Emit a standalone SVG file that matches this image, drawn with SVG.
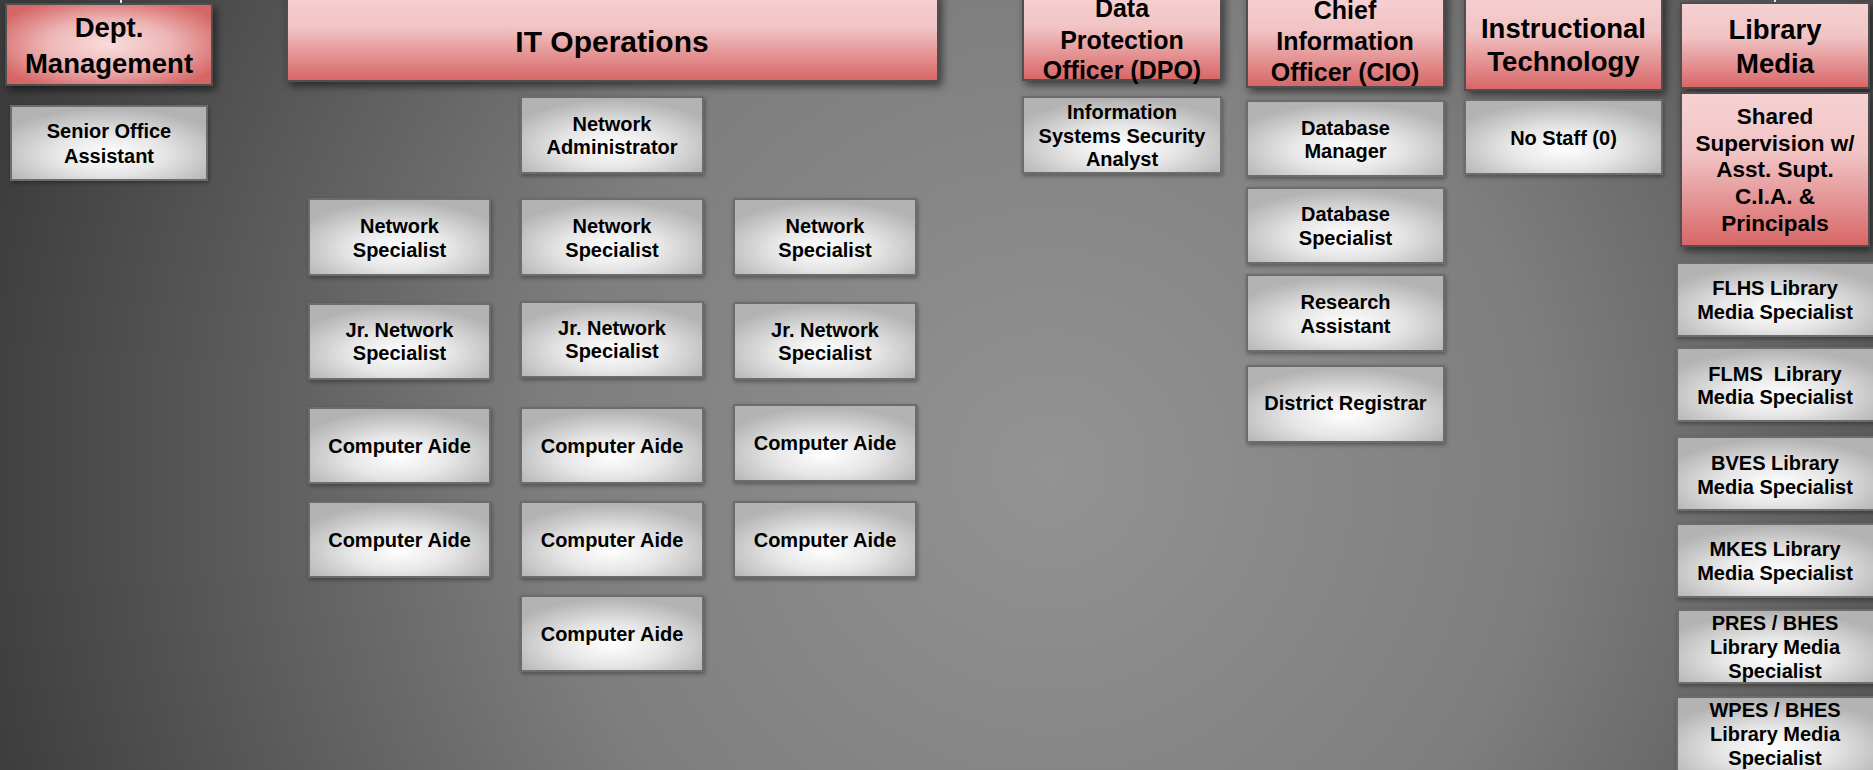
<svg xmlns="http://www.w3.org/2000/svg" width="1873" height="770" viewBox="0 0 1873 770">
<defs>
<radialGradient id="bg" gradientUnits="userSpaceOnUse" cx="1050" cy="470" r="1100">
<stop offset="0" stop-color="#939393"/>
<stop offset="0.45" stop-color="#7e7e7e"/>
<stop offset="1" stop-color="#3c3c3c"/>
</radialGradient>
<linearGradient id="redLin" x1="0" y1="0" x2="0" y2="1">
<stop offset="0" stop-color="#f6d2d3"/>
<stop offset="0.4" stop-color="#f1c3c4"/>
<stop offset="1" stop-color="#d86565"/>
</linearGradient>
<radialGradient id="redRad" cx="0.5" cy="0.5" r="0.6">
<stop offset="0" stop-color="#f9dcdc"/>
<stop offset="0.5" stop-color="#eeb6b6"/>
<stop offset="1" stop-color="#d66666"/>
</radialGradient>
<radialGradient id="greyRad" cx="0.5" cy="0.65" r="0.62">
<stop offset="0" stop-color="#ffffff"/>
<stop offset="0.45" stop-color="#e6e6e6"/>
<stop offset="1" stop-color="#b3b3b3"/>
</radialGradient>
<filter id="sh" x="-10%" y="-20%" width="125%" height="150%">
<feDropShadow dx="3" dy="4" stdDeviation="4" flood-color="#000" flood-opacity="0.55"/>
</filter>
<filter id="shs" x="-10%" y="-20%" width="125%" height="150%">
<feDropShadow dx="1" dy="2" stdDeviation="2" flood-color="#000" flood-opacity="0.35"/>
</filter>
</defs>
<style>
.red{fill:url(#redLin);stroke:#505050;stroke-width:2;filter:url(#sh)}
.redr{fill:url(#redRad);stroke:#505050;stroke-width:2;filter:url(#sh)}
.grey{fill:url(#greyRad);stroke:#6c6c6c;stroke-width:2;filter:url(#shs)}
.t{font-family:"Liberation Sans",Arial,sans-serif;font-weight:bold;text-anchor:middle;fill:#000;font-size:20px}
.h{font-size:27.5px}
.h25{font-size:25px}
.h30{font-size:30px}
.h22{font-size:22.5px}
.conn{stroke:#f2f2f2;stroke-width:2;fill:none}
</style>
<rect x="0" y="0" width="1873" height="770" fill="url(#bg)"/>

<g id="connectors">
<line class="conn" x1="121" y1="-2" x2="121" y2="4"/>
<line class="conn" x1="1775" y1="-2" x2="1775" y2="3"/>
</g>

<g id="dept-management">
<rect class="redr" x="6" y="4" width="206" height="81"/>
<text class="t h" x="109" y="37">Dept.</text>
<text class="t h" x="109" y="72.5">Management</text>
</g>
<g id="senior-office-assistant">
<rect class="grey" x="11" y="106" width="196" height="74"/>
<text class="t" x="109" y="138">Senior Office</text>
<text class="t" x="109" y="162.5">Assistant</text>
</g>

<g id="it-operations">
<rect class="red" x="287" y="-8" width="651" height="89"/>
<text class="t h30" x="612" y="52">IT Operations</text>
</g>
<g id="network-administrator">
<rect class="grey" x="521" y="97" width="182" height="76"/>
<text class="t" x="612" y="131">Network</text>
<text class="t" x="612" y="154">Administrator</text>
</g>

<g id="network-specialist-1">
<rect class="grey" x="309" y="199" width="181" height="76"/>
<text class="t" x="399.5" y="233">Network</text>
<text class="t" x="399.5" y="257">Specialist</text>
</g>
<g id="network-specialist-2">
<rect class="grey" x="521" y="199" width="182" height="76"/>
<text class="t" x="612" y="233">Network</text>
<text class="t" x="612" y="257">Specialist</text>
</g>
<g id="network-specialist-3">
<rect class="grey" x="734" y="199" width="182" height="76"/>
<text class="t" x="825" y="233">Network</text>
<text class="t" x="825" y="257">Specialist</text>
</g>

<g id="jr-network-specialist-1">
<rect class="grey" x="309" y="304" width="181" height="75"/>
<text class="t" x="399.5" y="336.5">Jr. Network</text>
<text class="t" x="399.5" y="360">Specialist</text>
</g>
<g id="jr-network-specialist-2">
<rect class="grey" x="521" y="302" width="182" height="75"/>
<text class="t" x="612" y="334.5">Jr. Network</text>
<text class="t" x="612" y="358">Specialist</text>
</g>
<g id="jr-network-specialist-3">
<rect class="grey" x="734" y="303" width="182" height="76"/>
<text class="t" x="825" y="336.5">Jr. Network</text>
<text class="t" x="825" y="360">Specialist</text>
</g>

<g id="computer-aide-1">
<rect class="grey" x="309" y="408" width="181" height="75"/>
<text class="t" x="399.5" y="452.5">Computer Aide</text>
</g>
<g id="computer-aide-2">
<rect class="grey" x="521" y="408" width="182" height="75"/>
<text class="t" x="612" y="452.5">Computer Aide</text>
</g>
<g id="computer-aide-3">
<rect class="grey" x="734" y="405" width="182" height="76"/>
<text class="t" x="825" y="450">Computer Aide</text>
</g>
<g id="computer-aide-4">
<rect class="grey" x="309" y="502" width="181" height="75"/>
<text class="t" x="399.5" y="546.5">Computer Aide</text>
</g>
<g id="computer-aide-5">
<rect class="grey" x="521" y="502" width="182" height="75"/>
<text class="t" x="612" y="546.5">Computer Aide</text>
</g>
<g id="computer-aide-6">
<rect class="grey" x="734" y="502" width="182" height="75"/>
<text class="t" x="825" y="546.5">Computer Aide</text>
</g>
<g id="computer-aide-7">
<rect class="grey" x="521" y="596" width="182" height="75"/>
<text class="t" x="612" y="640.5">Computer Aide</text>
</g>

<g id="dpo">
<rect class="red" x="1023" y="-8" width="198" height="88"/>
<text class="t h25" x="1122" y="17">Data</text>
<text class="t h25" x="1122" y="48.5">Protection</text>
<text class="t h25" x="1122" y="79">Officer (DPO)</text>
</g>
<g id="info-systems-security-analyst">
<rect class="grey" x="1023" y="97" width="198" height="76"/>
<text class="t" x="1122" y="119">Information</text>
<text class="t" x="1122" y="143">Systems Security</text>
<text class="t" x="1122" y="166">Analyst</text>
</g>

<g id="cio">
<rect class="red" x="1247" y="-8" width="197" height="95"/>
<text class="t h25" x="1345" y="18.5">Chief</text>
<text class="t h25" x="1345" y="50">Information</text>
<text class="t h25" x="1345" y="81">Officer (CIO)</text>
</g>
<g id="database-manager">
<rect class="grey" x="1247" y="101" width="197" height="75"/>
<text class="t" x="1345.5" y="134.5">Database</text>
<text class="t" x="1345.5" y="158">Manager</text>
</g>
<g id="database-specialist">
<rect class="grey" x="1247" y="188" width="197" height="75"/>
<text class="t" x="1345.5" y="221">Database</text>
<text class="t" x="1345.5" y="245">Specialist</text>
</g>
<g id="research-assistant">
<rect class="grey" x="1247" y="275" width="197" height="76"/>
<text class="t" x="1345.5" y="309">Research</text>
<text class="t" x="1345.5" y="332.5">Assistant</text>
</g>
<g id="district-registrar">
<rect class="grey" x="1247" y="366" width="197" height="76"/>
<text class="t" x="1345.5" y="410">District Registrar</text>
</g>

<g id="instructional-technology">
<rect class="red" x="1465" y="-8" width="197" height="98"/>
<text class="t h" x="1563.5" y="37.5">Instructional</text>
<text class="t h" x="1563.5" y="70.5">Technology</text>
</g>
<g id="no-staff">
<rect class="grey" x="1465" y="100" width="197" height="74"/>
<text class="t" x="1563.5" y="144.5">No Staff (0)</text>
</g>

<g id="library-media">
<rect class="red" x="1681" y="3" width="188" height="85"/>
<text class="t h" x="1775" y="39">Library</text>
<text class="t h" x="1775" y="72.5">Media</text>
</g>
<g id="shared-supervision">
<rect class="red" x="1681" y="93" width="188" height="153"/>
<text class="t h22" x="1775" y="124">Shared</text>
<text class="t h22" x="1775" y="150.7">Supervision w/</text>
<text class="t h22" x="1775" y="177.3">Asst. Supt.</text>
<text class="t h22" x="1775" y="204">C.I.A. &amp;</text>
<text class="t h22" x="1775" y="230.7">Principals</text>
</g>
<g id="flhs-lms">
<rect class="grey" x="1677" y="263" width="198" height="73"/>
<text class="t" x="1775" y="295">FLHS Library</text>
<text class="t" x="1775" y="318.5">Media Specialist</text>
</g>
<g id="flms-lms">
<rect class="grey" x="1677" y="348" width="198" height="73"/>
<text class="t" x="1775" y="380.5" xml:space="preserve">FLMS  Library</text>
<text class="t" x="1775" y="404">Media Specialist</text>
</g>
<g id="bves-lms">
<rect class="grey" x="1677" y="437" width="198" height="73"/>
<text class="t" x="1775" y="470">BVES Library</text>
<text class="t" x="1775" y="493.5">Media Specialist</text>
</g>
<g id="mkes-lms">
<rect class="grey" x="1677" y="524" width="198" height="73"/>
<text class="t" x="1775" y="556">MKES Library</text>
<text class="t" x="1775" y="579.5">Media Specialist</text>
</g>
<g id="pres-bhes-lms">
<rect class="grey" x="1678" y="610" width="197" height="73"/>
<text class="t" x="1775" y="630">PRES / BHES</text>
<text class="t" x="1775" y="654">Library Media</text>
<text class="t" x="1775" y="677.5">Specialist</text>
</g>
<g id="wpes-bhes-lms">
<rect class="grey" x="1677" y="697" width="198" height="80"/>
<text class="t" x="1775" y="716.5">WPES / BHES</text>
<text class="t" x="1775" y="741">Library Media</text>
<text class="t" x="1775" y="765">Specialist</text>
</g>
</svg>
